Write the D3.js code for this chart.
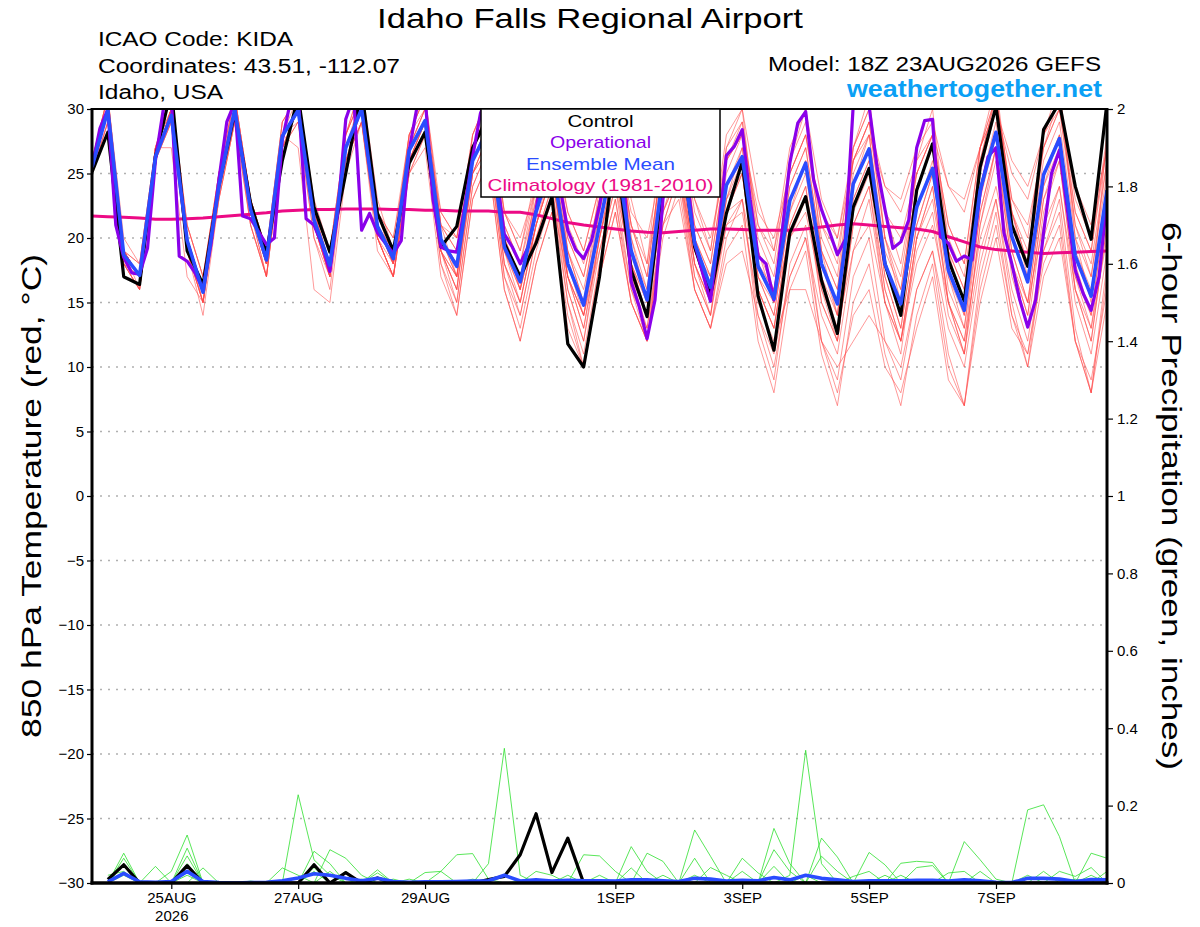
<!DOCTYPE html>
<html>
<head>
<meta charset="utf-8">
<script src="https://d3js.org/d3.v7.min.js"></script>
<style>
body { margin: 0; background: #fff; }
text { font-family: "Liberation Sans", Arial, sans-serif; }
</style>
</head>
<body>
<svg id="chart" width="1200" height="927"></svg>
<script>
// 6-hourly steps from the model run 18Z 23AUG2026
var runTime = new Date(Date.UTC(2026, 7, 23, 18));

var tempTicks = [-30, -25, -20, -15, -10, -5, 0, 5, 10, 15, 20, 25, 30];
var precipTicks = [0, 0.2, 0.4, 0.6, 0.8, 1, 1.2, 1.4, 1.6, 1.8, 2];
var dateTicks = ["2026-08-25", "2026-08-27", "2026-08-29", "2026-09-01", "2026-09-03", "2026-09-05", "2026-09-07"];
var dateLabels = ["25AUG", "27AUG", "29AUG", "1SEP", "3SEP", "5SEP", "7SEP"];
var legendNames = ["Control", "Operational", "Ensemble Mean", "Climatology (1981-2010)"];

// 850 hPa temperature, control run (black)
var tempControl = [25.1, 28.2, 17.0, 16.4, 26.3, 31.5, 19.0, 16.4, 24.0, 29.7, 22.7, 18.8, 26.0, 31.0, 22.4, 18.9,
  25.0, 31.5, 21.9, 19.0, 25.8, 28.2, 19.3, 20.9, 27.0, 29.5, 19.6, 17.0, 19.6, 23.2, 11.8, 10.0,
  17.0, 27.0, 17.5, 13.9, 24.5, 28.5, 19.3, 15.5, 21.9, 25.9, 15.5, 11.3, 20.4, 23.2, 16.7, 12.6,
  22.4, 25.4, 18.0, 14.0, 23.7, 27.3, 18.3, 15.1, 25.5, 30.2, 21.0, 17.8, 28.4, 30.5, 24.0, 19.9, 30.5];

// ensemble mean (blue)
var tempMean = [25.5, 29.9, 18.7, 17.1, 26.3, 29.5, 19.8, 15.8, 24.0, 30.0, 22.2, 18.3, 27.9, 29.9, 21.4, 17.9,
  27.0, 30.0, 20.9, 18.4, 26.8, 29.1, 19.9, 17.8, 26.0, 28.5, 19.3, 16.6, 22.0, 26.0, 18.0, 14.8,
  21.0, 27.0, 19.0, 15.2, 25.0, 28.0, 19.6, 16.2, 24.1, 26.3, 17.8, 15.3, 22.9, 25.8, 18.0, 14.9,
  24.2, 26.9, 18.0, 14.9, 22.4, 25.4, 17.5, 14.4, 23.7, 28.2, 20.1, 16.6, 24.9, 27.7, 18.6, 15.5, 23.7];

// operational run (purple), 3-hourly
var tempOper = [25.5, 28.5, 30.0, 21.0, 18.5, 17.3, 17.2, 19.2, 26.0, 30.0, 31.0, 18.6, 18.2, 17.3, 16.0, 19.5,
  24.5, 29.0, 30.5, 21.7, 21.5, 20.5, 19.5, 20.0, 27.6, 30.5, 31.0, 21.5, 21.0, 19.5, 17.4, 22.0,
  29.2, 31.0, 20.6, 21.9, 20.4, 19.6, 18.8, 19.8, 26.8, 30.2, 31.0, 23.0, 19.3, 19.0, 18.9, 22.4,
  26.3, 29.7, 31.0, 25.0, 20.3, 19.3, 18.0, 19.3, 22.2, 26.0, 28.0, 24.0, 20.6, 19.1, 18.4, 19.8,
  22.5, 26.0, 28.0, 25.0, 16.6, 14.7, 12.2, 15.2, 23.0, 26.0, 28.5, 25.0, 19.6, 17.3, 15.1, 20.4,
  26.4, 27.1, 28.4, 23.0, 18.6, 18.0, 15.2, 20.3, 25.8, 28.9, 29.8, 24.5, 22.2, 20.5, 18.7, 19.9,
  30.3, 31.0, 30.2, 25.5, 22.2, 19.2, 19.7, 21.4, 27.0, 29.1, 29.2, 20.1, 19.6, 18.2, 18.6, 18.3,
  23.5, 26.3, 27.0, 20.4, 18.0, 15.2, 13.1, 15.2, 20.4, 25.0, 26.8, 22.2, 17.5, 15.7, 14.4, 17.0, 23.0];

// climatology 1981-2010 (magenta)
var tempClim = [21.7, 21.65, 21.6, 21.55, 21.45, 21.45, 21.5, 21.55, 21.65, 21.75, 21.85, 21.95, 22.1, 22.15, 22.2, 22.2,
  22.25, 22.25, 22.25, 22.2, 22.2, 22.15, 22.15, 22.1, 22.1, 22.1, 22.0, 22.0, 21.8, 21.5, 21.2, 21.0,
  20.85, 20.7, 20.55, 20.45, 20.4, 20.5, 20.6, 20.7, 20.7, 20.65, 20.6, 20.6, 20.6, 20.7, 20.85, 21.0,
  21.1, 21.0, 20.9, 20.8, 20.7, 20.5, 20.1, 19.7, 19.3, 19.1, 19.0, 18.9, 18.8, 18.85, 18.9, 18.95, 19.0];

// 20 ensemble members (thin red)
var tempMembers = [
  [26,31,19,17,27,31,20,16,24,31,23,18,28,31,22,19,28,32,23,19,28,31,22,20,28,31,22,19,25,29,22,19,24,30,23,18,29,32,23,19,28,30,23,19,27,30,23,20,27,30,22,20,25,28,21,18,27,31,23,21,27,30,22,19,27],
  [25,30,19,17,26,30,20,16,24,30,22,18,28,30,21,18,27,30,21,18,27,29,20,17,26,28,19,16,21,25,17,13,20,26,18,14,24,27,18,14,22,25,16,13,21,24,16,12,22,25,16,12,20,24,15,11,21,27,18,14,23,27,17,13,22],
  [25,29,18,16,26,29,19,15,23,29,21,17,27,29,20,17,26,29,19,17,25,27,17,14,23,26,16,12,18,22,14,10,17,22,15,12,20,24,16,13,19,21,12,8,16,19,11,7,15,18,11,7,14,18,10,7,17,22,14,10,19,22,12,8,17],
  [26,31,19,17,27,31,20,16,25,31,23,19,29,31,22,18,28,32,22,18,28,31,21,17,28,31,20,16,24,29,19,15,24,30,20,15,28,31,20,16,27,30,19,15,26,30,19,14,27,31,20,15,26,30,19,14,27,32,22,17,28,32,20,15,28],
  [25,29,18,17,27,27,17,15,23,29,22,18,28,27,16,15,25,29,21,18,26,28,20,18,25,27,20,17,20,23,17,14,19,24,18,15,22,25,19,17,22,23,17,15,20,22,16,13,19,21,15,12,18,21,15,12,20,24,18,15,21,24,16,13,20],
  [26,30,19,18,27,30,21,17,25,30,23,19,28,30,22,19,27,30,22,20,27,29,22,20,26,29,22,20,24,28,22,19,24,28,22,20,26,29,23,20,26,28,22,20,25,28,22,20,26,28,24,22,26,28,24,22,27,30,25,23,28,30,24,21,27],
  [25,30,18,16,26,29,19,15,24,30,21,17,27,30,21,17,26,29,20,17,25,28,19,15,24,27,17,13,19,23,15,11,18,23,15,12,21,25,17,14,23,27,18,16,24,27,19,16,25,28,19,16,24,27,19,16,25,30,22,18,26,29,20,17,25],
  [25,30,19,17,26,30,20,16,24,30,22,18,28,30,21,18,27,30,21,18,26,29,19,16,25,28,18,15,21,25,16,12,20,25,17,13,22,26,17,14,21,23,14,10,17,20,12,8,14,16,10,8,13,17,9,7,15,20,13,11,18,21,12,9,16],
  [26,30,19,17,26,30,20,16,24,30,22,18,28,30,22,18,27,31,21,19,27,30,20,18,27,29,20,17,23,27,19,16,22,28,20,16,26,29,20,17,25,28,19,16,24,27,19,16,26,29,20,16,24,27,19,16,26,31,22,18,27,31,21,17,26],
  [25,30,18,16,26,30,20,15,24,30,22,17,28,29,21,17,27,30,20,17,26,29,19,16,26,28,18,14,20,24,16,12,19,24,16,13,21,23,16,13,18,19,14,11,17,20,14,11,19,23,15,11,20,24,15,12,22,27,18,14,23,26,16,12,21],
  [25,30,19,17,26,30,20,16,24,30,22,18,28,30,22,18,26,30,21,18,26,29,20,17,26,29,20,16,22,27,18,14,21,27,19,15,25,28,19,16,24,26,17,14,22,25,17,13,23,26,17,13,21,25,16,13,23,28,19,15,24,27,17,14,23],
  [25,29,18,16,26,30,19,14,23,29,21,17,27,29,20,16,26,29,20,17,25,28,18,15,24,27,17,14,20,24,15,10,18,23,16,12,22,25,16,13,20,23,13,9,18,21,12,9,17,20,12,9,16,19,11,7,16,21,14,11,19,23,13,8,18],
  [26,31,20,18,27,31,21,17,25,31,23,19,29,31,23,19,28,31,22,20,28,31,21,20,28,31,22,19,24,29,21,18,23,29,21,17,27,30,22,19,27,29,21,18,26,29,21,18,27,30,22,18,25,28,21,18,27,31,23,20,28,31,22,19,28],
  [25,30,19,16,26,29,19,15,24,30,22,18,28,30,21,17,26,29,20,17,26,28,19,16,25,27,18,15,21,25,17,13,20,25,18,14,23,26,18,15,21,22,15,12,16,16,12,10,12,14,12,10,16,19,13,10,18,23,16,12,20,24,15,11,19],
  [25,30,19,17,26,30,20,16,24,30,22,19,28,30,22,19,27,30,22,19,27,30,21,19,27,30,21,18,23,28,20,17,23,28,21,18,26,29,21,18,26,28,21,19,25,28,21,19,26,29,24,23,27,29,24,23,27,30,26,24,28,31,23,20,27],
  [25,30,19,17,26,30,20,16,24,30,22,18,28,30,21,18,27,30,21,18,26,28,18,14,23,26,16,12,18,22,13,10,17,22,15,12,21,25,18,15,23,26,18,15,23,26,18,14,23,26,17,13,21,25,17,13,22,27,19,15,24,28,18,14,23],
  [26,30,19,17,27,30,20,16,25,30,23,18,28,30,21,18,28,31,21,19,27,30,20,18,26,29,19,17,22,27,19,15,22,28,19,16,25,29,20,17,24,27,17,14,22,26,17,14,24,28,18,15,22,26,17,14,24,29,20,17,25,28,19,16,24],
  [25,30,18,17,26,30,19,15,24,30,22,18,27,30,21,17,27,30,20,18,26,29,19,17,25,28,19,16,21,25,17,14,20,26,18,15,24,27,19,16,23,25,16,13,21,24,15,12,21,24,15,12,19,22,14,11,19,23,15,10,17,20,12,8,15],
  [26,31,19,18,27,31,21,17,25,31,23,19,29,31,22,19,28,31,22,19,28,30,21,19,27,30,21,18,24,28,20,17,23,29,21,17,27,30,21,18,26,29,20,17,25,28,20,17,26,29,20,17,25,28,20,17,26,31,22,19,27,30,21,18,26],
  [25,30,19,17,26,30,20,16,24,30,22,17,27,30,21,17,26,30,20,17,26,28,19,17,25,28,19,15,21,26,17,14,21,26,17,14,23,27,18,15,22,25,16,13,20,23,15,12,21,24,16,12,20,23,15,11,21,26,17,13,22,26,16,12,21]
];

// 6-hour precipitation, steps 1..64 (inches)
var precipControl = [0.009, 0.047, 0, 0, 0, 0.045, 0, 0, 0, 0, 0, 0, 0, 0.047, 0, 0.027,
  0, 0.013, 0, 0, 0, 0, 0, 0, 0.009, 0.017, 0.073, 0.179, 0.027, 0.116, 0, 0,
  0, 0, 0, 0, 0, 0, 0, 0, 0, 0, 0, 0, 0, 0, 0, 0,
  0, 0, 0, 0, 0, 0, 0, 0, 0, 0, 0, 0, 0, 0, 0, 0];

var precipMean = [0.003, 0.025, 0.003, 0.002, 0.004, 0.03, 0.004, 0.001, 0, 0.001, 0.002, 0.006, 0.013, 0.024, 0.02, 0.012,
  0.006, 0.012, 0.004, 0.002, 0.003, 0.003, 0.004, 0.005, 0.006, 0.02, 0.005, 0.008, 0.005, 0.007, 0.006, 0.006,
  0.005, 0.008, 0.008, 0.006, 0.004, 0.012, 0.01, 0.005, 0.007, 0.006, 0.014, 0.008, 0.02, 0.012, 0.008, 0.004,
  0.006, 0.006, 0.006, 0.007, 0.007, 0.005, 0.008, 0.006, 0.002, 0.001, 0.012, 0.012, 0.01, 0.004, 0.009, 0.008];

// members: [step, inches] where non-zero, zero elsewhere
var precipMemberPeaks = [
  [[13, 0.228], [14, 0.06], [15, 0.02]],
  [[25, 0.05], [26, 0.348], [27, 0.02]],
  [[44, 0.02], [45, 0.343], [46, 0.05]],
  [[59, 0.189], [60, 0.202], [61, 0.12]],
  [[22, 0.03], [23, 0.073], [24, 0.076], [25, 0.01]],
  [[2, 0.05], [5, 0.03], [6, 0.124]],
  [[38, 0.02], [43, 0.141], [44, 0.05]],
  [[38, 0.137], [39, 0.069], [46, 0.116], [47, 0.067]],
  [[34, 0.094], [35, 0.03], [55, 0.107], [56, 0.06], [57, 0.01]],
  [[31, 0.073], [32, 0.07], [33, 0.03], [35, 0.077], [36, 0.056]],
  [[2, 0.077], [6, 0.09], [14, 0.082], [15, 0.05]],
  [[2, 0.064], [6, 0.07], [15, 0.086], [16, 0.064], [17, 0.02]],
  [[2, 0.05], [6, 0.05], [14, 0.05], [18, 0.034], [49, 0.079], [50, 0.047]],
  [[4, 0.043], [7, 0.039], [12, 0.039], [13, 0.02], [41, 0.064], [42, 0.026], [63, 0.077], [64, 0.064]],
  [[18, 0.026], [21, 0.027], [22, 0.03], [43, 0.086], [44, 0.03], [51, 0.051], [52, 0.056], [53, 0.053]],
  [[20, 0.01], [28, 0.03], [29, 0.02], [34, 0.039], [43, 0.043], [46, 0.069], [47, 0.03], [54, 0.026], [55, 0.03]],
  [[14, 0.03], [16, 0.03], [30, 0.02], [39, 0.04], [40, 0.02], [52, 0.04], [53, 0.045], [61, 0.03], [62, 0.017], [63, 0.04]],
  [[1, 0.02], [2, 0.03], [6, 0.03], [19, 0.01], [36, 0.02], [48, 0.017], [49, 0.03], [60, 0.03], [64, 0.03]],
  [[2, 0.02], [10, 0.005], [15, 0.03], [24, 0.01], [32, 0.02], [41, 0.03], [50, 0.02], [56, 0.03], [63, 0.02]],
  [[6, 0.02], [14, 0.04], [17, 0.01], [27, 0.005], [38, 0.064], [45, 0.02], [51, 0.02], [59, 0.02], [62, 0.01]]
];

var svg = d3.select("#chart");
var plotLeft = 92, plotRight = 1107, plotTop = 109, plotBottom = 883;

var endTime = d3.utcHour.offset(runTime, 6 * 64);
var x = d3.scaleUtc().domain([runTime, endTime]).range([plotLeft, plotRight]);
var yT = d3.scaleLinear().domain([-30, 30]).range([plotBottom, plotTop]);
var yP = d3.scaleLinear().domain([0, 2]).range([plotBottom, plotTop]);

function stepTime(i, hours) { return d3.utcHour.offset(runTime, hours * i); }

svg.append("defs").append("clipPath").attr("id", "plotClip")
  .append("rect").attr("x", plotLeft).attr("y", plotTop)
  .attr("width", plotRight - plotLeft).attr("height", plotBottom - plotTop);

// dotted grid on temperature ticks
svg.append("g").selectAll("line")
  .data(tempTicks.filter(function (d) { return d > -30 && d < 30; }))
  .join("line")
  .attr("x1", plotLeft).attr("x2", plotRight)
  .attr("y1", function (d) { return yT(d); })
  .attr("y2", function (d) { return yT(d); })
  .attr("stroke", "#b0b0b0")
  .attr("stroke-width", 1.3)
  .attr("stroke-dasharray", "2,6");

var plot = svg.append("g").attr("clip-path", "url(#plotClip)");

var line6 = d3.line()
  .x(function (d, i) { return x(stepTime(i, 6)); })
  .y(function (d) { return yT(d); });
var line3 = d3.line()
  .x(function (d, i) { return x(stepTime(i, 3)); })
  .y(function (d) { return yT(d); });
var lineP = d3.line()
  .x(function (d, i) { return x(stepTime(i + 1, 6)); })
  .y(function (d) { return yP(d); });

// precipitation members
var precipMembers = precipMemberPeaks.map(function (peaks) {
  var m = new Map(peaks);
  return d3.range(1, 65).map(function (s) { return m.has(s) ? m.get(s) : 0; });
});

plot.selectAll(".member")
  .data(tempMembers)
  .join("path")
  .attr("class", "member")
  .attr("d", line6)
  .attr("fill", "none")
  .attr("stroke", "#ff4848")
  .attr("stroke-opacity", 0.8)
  .attr("stroke-width", 0.7);

plot.selectAll(".pmember")
  .data(precipMembers)
  .join("path")
  .attr("class", "pmember")
  .attr("d", lineP)
  .attr("fill", "none")
  .attr("stroke", "#2ee02e")
  .attr("stroke-width", 0.8);

plot.append("path").attr("d", line6(tempClim))
  .attr("fill", "none").attr("stroke", "#ec0a85").attr("stroke-width", 3);
plot.append("path").attr("d", line6(tempControl))
  .attr("fill", "none").attr("stroke", "#000").attr("stroke-width", 3.2).attr("stroke-linejoin", "round");
plot.append("path").attr("d", line3(tempOper))
  .attr("fill", "none").attr("stroke", "#8a00ea").attr("stroke-width", 3.2).attr("stroke-linejoin", "round");
plot.append("path").attr("d", line6(tempMean))
  .attr("fill", "none").attr("stroke", "#2a4cff").attr("stroke-width", 3.6).attr("stroke-linejoin", "round");

plot.append("path").attr("d", lineP(precipControl))
  .attr("fill", "none").attr("stroke", "#000").attr("stroke-width", 3.2).attr("stroke-linejoin", "round");
plot.append("path").attr("d", lineP(precipMean))
  .attr("fill", "none").attr("stroke", "#2a4cff").attr("stroke-width", 3.6).attr("stroke-linejoin", "round");

// axes
var axisL = svg.append("g").attr("transform", "translate(" + plotLeft + ",0)")
  .call(d3.axisLeft(yT).tickValues(tempTicks).tickSize(5).tickPadding(3));
var axisR = svg.append("g").attr("transform", "translate(" + plotRight + ",0)")
  .call(d3.axisRight(yP).tickValues(precipTicks).tickSize(6).tickPadding(4).tickFormat(d3.format("~g")));
var axisB = svg.append("g").attr("transform", "translate(0," + plotBottom + ")")
  .call(d3.axisBottom(x).tickValues(dateTicks.map(function (d) { return new Date(d + "T00:00:00Z"); }))
    .tickSize(6).tickPadding(3).tickFormat(function (d, i) { return dateLabels[i]; }));

[axisL, axisR, axisB].forEach(function (g) {
  g.attr("font-size", 15).attr("font-family", "'Liberation Sans', Arial, sans-serif");
  g.select(".domain").remove();
  g.selectAll(".tick line").attr("stroke", "#000").attr("stroke-width", 1.2);
  g.selectAll(".tick text").attr("fill", "#000");
});
axisB.selectAll(".tick text").attr("dy", "0.75em");
axisB.select(".tick").append("text")
  .attr("y", 27).attr("dy", "0.75em").attr("fill", "#000")
  .attr("text-anchor", "middle").text("2026");

// frame
svg.append("line").attr("x1", plotLeft - 1).attr("x2", plotRight + 1).attr("y1", plotTop).attr("y2", plotTop)
  .attr("stroke", "#000").attr("stroke-width", 2);
svg.append("line").attr("x1", plotLeft - 1.5).attr("x2", plotRight + 1.5).attr("y1", plotBottom).attr("y2", plotBottom)
  .attr("stroke", "#000").attr("stroke-width", 3.5);
svg.append("line").attr("x1", plotLeft).attr("x2", plotLeft).attr("y1", plotTop - 1).attr("y2", plotBottom + 1.5)
  .attr("stroke", "#000").attr("stroke-width", 3);
svg.append("line").attr("x1", plotRight).attr("x2", plotRight).attr("y1", plotTop - 1).attr("y2", plotBottom + 1.5)
  .attr("stroke", "#000").attr("stroke-width", 3);

// legend
var legendColors = ["#000", "#8a00ea", "#2a4cff", "#ec0a85"];
var legendWidths = [66, 101, 149, 226];
svg.append("rect").attr("x", 481).attr("y", plotTop).attr("width", 239).attr("height", 88)
  .attr("fill", "#fff").attr("stroke", "#000").attr("stroke-width", 1.5);
svg.append("g").selectAll("text")
  .data(legendNames)
  .join("text")
  .attr("x", 600.5)
  .attr("y", function (d, i) { return 127 + 21.4 * i; })
  .attr("text-anchor", "middle")
  .attr("font-size", 17)
  .attr("textLength", function (d, i) { return legendWidths[i]; })
  .attr("lengthAdjust", "spacingAndGlyphs")
  .attr("fill", function (d, i) { return legendColors[i]; })
  .text(function (d) { return d; });

// titles and labels (stretched to the wide lettering of the original)
function label(txt, px, py, size, width, anchor) {
  return svg.append("text").attr("x", px).attr("y", py)
    .attr("font-size", size).attr("text-anchor", anchor || "start")
    .attr("textLength", width).attr("lengthAdjust", "spacingAndGlyphs")
    .text(txt);
}
label("Idaho Falls Regional Airport", 590, 28, 28, 426, "middle");
label("ICAO Code: KIDA", 98, 46, 20, 195);
label("Coordinates: 43.51, -112.07", 98, 73, 20, 302);
label("Idaho, USA", 98, 99, 20, 125);
label("Model: 18Z 23AUG2026 GEFS", 1101, 71, 20, 333, "end");
label("weathertogether.net", 1102, 97, 24, 255, "end")
  .attr("font-weight", "bold").attr("fill", "#0aa0f5");

svg.append("text").attr("transform", "translate(41,496) rotate(-90)")
  .attr("text-anchor", "middle").attr("font-size", 28)
  .attr("textLength", 484).attr("lengthAdjust", "spacingAndGlyphs")
  .text("850 hPa Temperature (red, °C)");
svg.append("text").attr("transform", "translate(1162,496) rotate(90)")
  .attr("text-anchor", "middle").attr("font-size", 28)
  .attr("textLength", 548).attr("lengthAdjust", "spacingAndGlyphs")
  .text("6-hour Precipitation (green, inches)");
</script>
</body>
</html>
